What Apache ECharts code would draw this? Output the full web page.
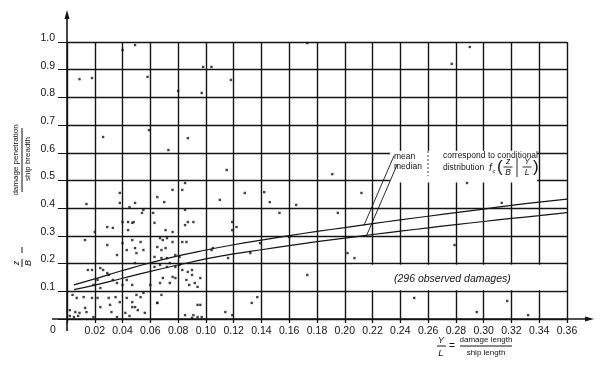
<!DOCTYPE html>
<html>
<head>
<meta charset="utf-8">
<script src="https://cdn.jsdelivr.net/npm/echarts@6/dist/echarts.min.js"></script>
<style>
  html, body { margin: 0; padding: 0; background: #fff; }
  #chart { width: 605px; height: 377px; }
</style>
</head>
<body>
<div id="chart"></div>
<script>
// Y/L (damage length / ship length) where the two fitted curves are read
const lenPoints = [0.005, 0.02, 0.04, 0.06, 0.08, 0.10, 0.12, 0.14, 0.16, 0.18, 0.20, 0.22, 0.24, 0.26, 0.28, 0.30, 0.32, 0.34, 0.36];
// z/B of the mean curve
const meanPen = [0.123, 0.145, 0.175, 0.203, 0.228, 0.249, 0.268, 0.285, 0.301, 0.316, 0.330, 0.344, 0.358, 0.371, 0.384, 0.397, 0.410, 0.422, 0.433];
// z/B of the median curve
const medianPen = [0.106, 0.122, 0.147, 0.172, 0.195, 0.217, 0.235, 0.250, 0.265, 0.279, 0.292, 0.305, 0.317, 0.329, 0.341, 0.352, 0.363, 0.373, 0.384];

// observed damages [Y/L, z/B]
const damages = [
  [0.038, 0.455], [0.014, 0.415], [0.038, 0.419], [0.045, 0.404], [0.040, 0.350], [0.029, 0.332], [0.047, 0.347],
  [0.020, 0.314], [0.044, 0.321], [0.013, 0.285], [0.029, 0.267], [0.040, 0.274], [0.036, 0.231], [0.043, 0.249],
  [0.018, 0.177], [0.024, 0.184], [0.026, 0.177], [0.030, 0.159], [0.022, 0.141], [0.033, 0.141], [0.043, 0.141],
  [0.040, 0.123], [0.019, 0.123], [0.024, 0.112], [0.004, 0.087], [0.007, 0.076], [0.012, 0.079], [0.018, 0.076],
  [0.022, 0.076], [0.030, 0.076], [0.035, 0.079], [0.038, 0.061], [0.043, 0.076], [0.047, 0.061], [0.002, 0.032],
  [0.006, 0.025], [0.009, 0.022], [0.014, 0.025], [0.013, 0.040], [0.019, 0.007], [0.024, 0.043], [0.031, 0.051],
  [0.032, 0.025], [0.036, 0.007], [0.042, 0.022], [0.047, 0.043], [0.002, 0.011], [0.005, 0.007], [0.008, 0.011],
  [0.045, 0.011], [0.049, 0.419], [0.055, 0.394], [0.054, 0.383], [0.062, 0.383], [0.065, 0.440], [0.076, 0.466],
  [0.070, 0.422], [0.085, 0.394], [0.048, 0.350], [0.063, 0.347], [0.085, 0.339], [0.087, 0.350], [0.091, 0.350],
  [0.071, 0.321], [0.076, 0.314], [0.047, 0.285], [0.053, 0.278], [0.067, 0.292], [0.069, 0.285], [0.072, 0.292],
  [0.076, 0.278], [0.083, 0.278], [0.086, 0.278], [0.049, 0.256], [0.055, 0.249], [0.065, 0.260], [0.068, 0.249],
  [0.071, 0.256], [0.050, 0.238], [0.063, 0.224], [0.068, 0.220], [0.072, 0.220], [0.078, 0.231], [0.081, 0.224],
  [0.049, 0.202], [0.063, 0.188], [0.067, 0.195], [0.072, 0.188], [0.074, 0.202], [0.078, 0.188], [0.081, 0.195],
  [0.083, 0.177], [0.090, 0.177], [0.090, 0.159], [0.069, 0.148], [0.047, 0.123], [0.060, 0.123], [0.076, 0.152],
  [0.086, 0.141], [0.088, 0.123], [0.094, 0.116], [0.096, 0.148], [0.050, 0.087], [0.055, 0.094], [0.053, 0.079],
  [0.068, 0.087], [0.049, 0.043], [0.051, 0.032], [0.056, 0.022], [0.065, 0.058], [0.085, 0.014], [0.090, 0.004],
  [0.094, 0.007], [0.097, 0.007], [0.094, 0.051], [0.049, 0.989], [0.040, 0.971], [0.009, 0.866], [0.018, 0.870],
  [0.058, 0.874], [0.080, 0.823], [0.097, 0.816], [0.026, 0.657], [0.087, 0.653], [0.059, 0.682], [0.073, 0.610],
  [0.104, 0.910], [0.118, 0.863], [0.173, 0.996], [0.290, 0.982], [0.277, 0.921], [0.083, 0.466], [0.085, 0.491],
  [0.033, 0.329], [0.044, 0.350], [0.092, 0.130], [0.096, 0.051], [0.114, 0.025], [0.133, 0.058], [0.137, 0.079],
  [0.119, 0.014], [0.132, 0.238], [0.116, 0.220], [0.173, 0.159], [0.202, 0.238], [0.207, 0.220], [0.104, 0.249],
  [0.128, 0.455], [0.110, 0.430], [0.142, 0.458], [0.146, 0.422], [0.153, 0.383], [0.165, 0.412], [0.212, 0.455],
  [0.191, 0.523], [0.195, 0.383], [0.119, 0.350], [0.122, 0.332], [0.119, 0.321], [0.105, 0.256], [0.139, 0.274],
  [0.160, 0.296], [0.250, 0.076], [0.295, 0.025], [0.332, 0.014], [0.288, 0.491], [0.313, 0.419], [0.279, 0.267],
  [0.317, 0.065], [0.115, 0.538], [0.098, 0.910], [0.015, 0.177], [0.029, 0.166], [0.036, 0.130], [0.067, 0.130],
  [0.074, 0.130], [0.078, 0.148], [0.065, 0.058], [0.087, 0.170], [0.091, 0.014]
];

const xTickLabels = ['0.02', '0.04', '0.06', '0.08', '0.10', '0.12', '0.14', '0.16', '0.18', '0.20', '0.22', '0.24', '0.26', '0.28', '0.30', '0.32', '0.34', '0.36'];
const yTickLabels = ['0.1', '0.2', '0.3', '0.4', '0.5', '0.6', '0.7', '0.8', '0.9', '1.0'];

const FONT = '"Liberation Sans", Arial, sans-serif';
const INK = '#141414';

const chart = echarts.init(document.getElementById('chart'));

chart.setOption({
  animation: false,
  backgroundColor: '#fff',
  grid: { left: 67, right: 38, top: 42, bottom: 58, containLabel: false, outerBoundsMode: 'none' },
  xAxis: {
    type: 'value', min: 0, max: 0.36, interval: 0.02,
    axisLine: { show: false },
    axisTick: { show: true, length: 4, lineStyle: { color: INK, width: 1.3 } },
    axisLabel: {
      margin: 7, color: INK, fontFamily: FONT, fontSize: 10.5, showMaxLabel: true,
      formatter: v => { const i = Math.round(v / 0.02) - 1; return i >= 0 ? xTickLabels[i] : ''; }
    },
    splitLine: { show: true, lineStyle: { color: INK, width: 1.4 } }
  },
  yAxis: {
    type: 'value', min: 0, max: 1, interval: 0.1,
    axisLine: { show: false },
    axisTick: { show: true, length: 9, lineStyle: { color: INK, width: 1 } },
    axisLabel: {
      margin: 12, color: INK, fontFamily: FONT, fontSize: 10.5,
      verticalAlign: 'bottom', lineHeight: 8,
      formatter: v => { const i = Math.round(v * 10) - 1; return i >= 0 ? yTickLabels[i] : ''; }
    },
    splitLine: { show: true, lineStyle: { color: INK, width: 1.4 } }
  },
  series: [
    {
      name: 'observed damages', type: 'scatter', data: damages,
      symbol: 'rect', symbolSize: 2.4, itemStyle: { color: INK }, z: 4
    },
    {
      name: 'mean', type: 'line', smooth: true, showSymbol: false,
      data: lenPoints.map((x, i) => [x, meanPen[i]]),
      lineStyle: { color: INK, width: 1.2 }, z: 5
    },
    {
      name: 'median', type: 'line', smooth: true, showSymbol: false,
      data: lenPoints.map((x, i) => [x, medianPen[i]]),
      lineStyle: { color: INK, width: 1.2 }, z: 5
    }
  ]
});

// axes, annotations and labels drawn on top
const px = (x, y) => chart.convertToPixel({ gridIndex: 0 }, [x, y]);
const o = px(0, 0);
const txt = (text, x, y, opt) => ({
  type: 'text', x, y, z: 20,
  style: Object.assign({ text, fill: INK, font: '8.5px ' + FONT, textAlign: 'left', textVerticalAlign: 'middle' }, opt || {})
});
const seg = (x1, y1, x2, y2, w, dash) => ({
  type: 'line', z: 20, shape: { x1, y1, x2, y2 },
  style: { stroke: INK, lineWidth: w || 1, lineDash: dash || null }
});
const whiteBox = (a, b) => {
  const p1 = px(a[0], a[1]), p2 = px(b[0], b[1]);
  return { type: 'rect', z: 1, shape: { x: p1[0], y: p1[1], width: p2[0] - p1[0], height: p2[1] - p1[1] }, style: { fill: '#fff' } };
};
const pointer = (from, to) => {
  const a = px(from[0], from[1]), b = px(to[0], to[1]);
  return seg(a[0], a[1], b[0], b[1], 0.9);
};

const graphics = [
  // white-out behind the two annotations
  whiteBox([0.2325, 0.607], [0.3385, 0.493]),
  whiteBox([0.2055, 0.196], [0.3585, 0.104]),
  // axes with arrows
  seg(o[0], o[1] + 12, o[0], 15, 1.6),
  { type: 'polygon', z: 20, shape: { points: [[o[0], 10], [o[0] - 2.5, 19], [o[0] + 2.5, 19]] }, style: { fill: INK } },
  seg(o[0] - 15, o[1], 588, o[1], 1.6),
  { type: 'polygon', z: 20, shape: { points: [[594, o[1]], [585, o[1] - 2.5], [585, o[1] + 2.5]] }, style: { fill: INK } },
  txt('0', 53, o[1] + 11, { textAlign: 'center', font: '10.5px ' + FONT }),

  // mean / median pointers
  pointer([0.2355, 0.590], [0.2137, 0.337]),
  pointer([0.2378, 0.558], [0.2155, 0.299]),
  txt('mean', 394, 157),
  txt('median', 394, 167),
  seg(428, 151, 428, 176, 0.8, [2, 2]),
  txt('correspond to conditional', 443, 156),
  txt('distribution', 443, 168),
  txt('f', 489, 168, { font: 'italic 10px ' + FONT }),
  txt('c', 492.5, 171, { font: 'italic 6px ' + FONT }),
  txt('(', 497, 167, { font: '17px ' + FONT }),
  txt('z', 508, 161.5, { textAlign: 'center', font: 'italic 8.5px ' + FONT }),
  seg(503.5, 167, 512.5, 167, 0.9),
  txt('B', 508, 172.5, { textAlign: 'center', font: 'italic 8.5px ' + FONT }),
  seg(517, 158, 517, 177, 0.9),
  txt('Y', 527, 161.5, { textAlign: 'center', font: 'italic 8.5px ' + FONT }),
  seg(522.5, 167, 531.5, 167, 0.9),
  txt('L', 527, 172.5, { textAlign: 'center', font: 'italic 8.5px ' + FONT }),
  txt(')', 533, 167, { font: '17px ' + FONT }),

  txt('(296 observed damages)', 394, 279, { font: 'italic 10.5px ' + FONT }),

  // x axis title: Y/L = damage length / ship length
  txt('Y', 441, 340, { textAlign: 'center', font: 'italic 9.5px ' + FONT }),
  seg(437, 346, 446, 346, 1),
  txt('L', 441, 353, { textAlign: 'center', font: 'italic 9.5px ' + FONT }),
  txt('=', 452, 346, { textAlign: 'center', font: '10px ' + FONT }),
  txt('damage length', 486, 340, { textAlign: 'center', font: '8px ' + FONT }),
  seg(460, 346, 512, 346, 1),
  txt('ship length', 486, 353, { textAlign: 'center', font: '8px ' + FONT }),

  // y axis title, rotated to read bottom-to-top
  {
    type: 'group', x: 22, y: 200, rotation: Math.PI / 2, z: 20,
    children: [
      txt('z', -63, -6, { textAlign: 'center', font: 'italic 9px ' + FONT }),
      seg(-67, 0, -59, 0, 1),
      txt('B', -63, 6, { textAlign: 'center', font: 'italic 9px ' + FONT }),
      seg(-53, 0, -47, 0, 1),
      txt('damage penetration', 40, -6, { textAlign: 'center', font: '8px ' + FONT }),
      seg(8, 0, 72, 0, 1),
      txt('ship breadth', 41, 6, { textAlign: 'center', font: '8px ' + FONT })
    ]
  }
];

chart.setOption({ graphic: graphics });
</script>
</body>
</html>
